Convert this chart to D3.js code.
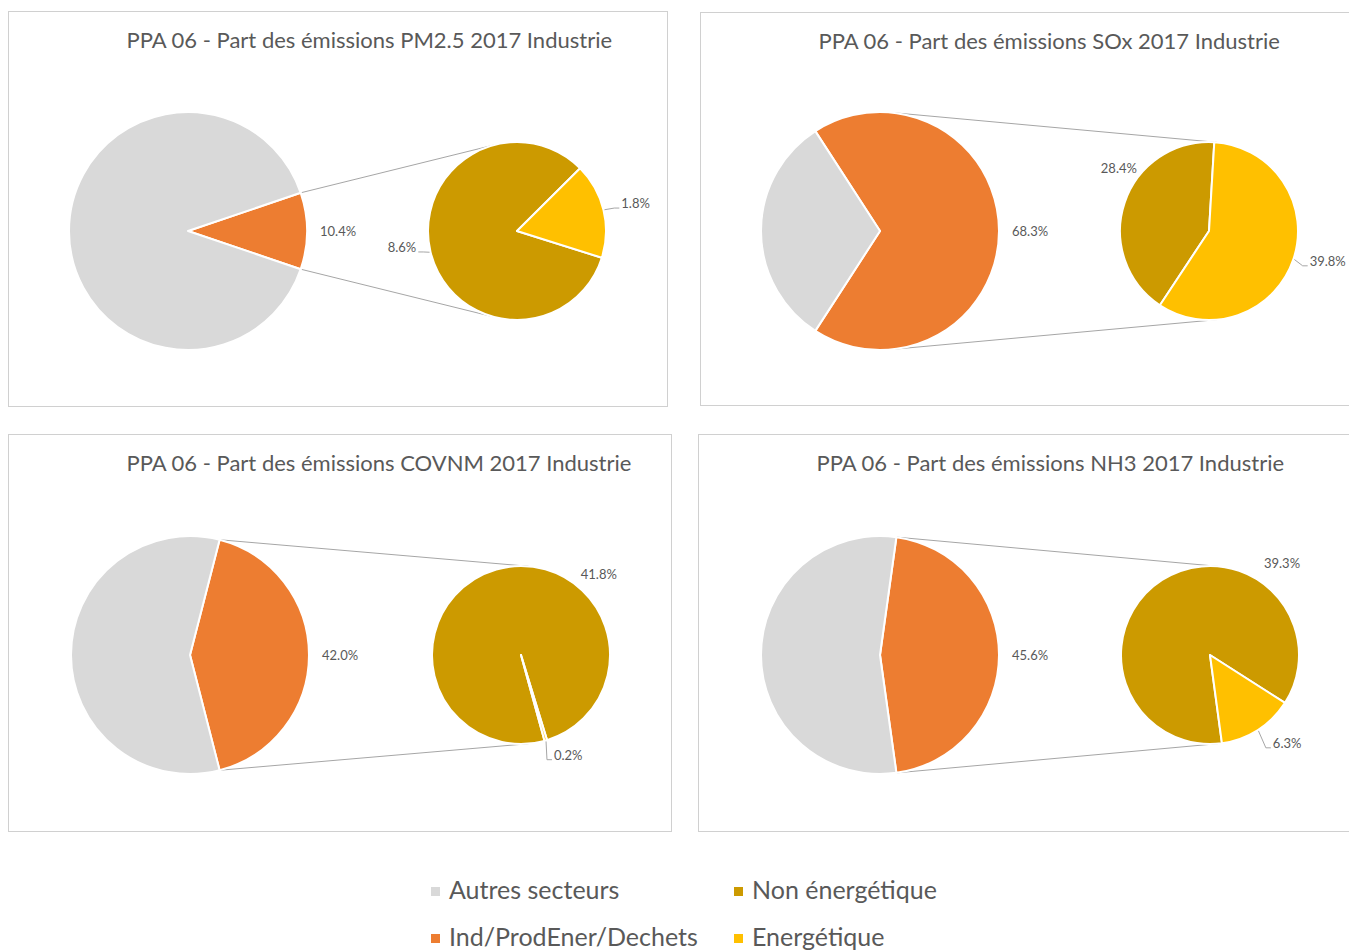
<!DOCTYPE html>
<html lang="fr">
<head>
  <meta charset="UTF-8">
  <title>PPA 06 - Part des émissions 2017 Industrie</title>
  <style>
    body { margin: 0; background: #fff; font-family: Lato, "Open Sans", sans-serif; }
    svg text { fill: #595959; }
  </style>
  <script src="https://cdn.jsdelivr.net/npm/d3@7"></script>
</head>
<body>
<script>
  // data (percent of total emissions)
  var pollutants      = ["PM2.5", "SOx", "COVNM", "NH3"];
  var indShare        = [10.4, 68.3, 42.0, 45.6];   // Ind/ProdEner/Dechets
  var autresShare     = [89.6, 31.7, 58.0, 54.4];   // Autres secteurs
  var nonEnergetique  = [8.6, 28.4, 41.8, 39.3];
  var energetique     = [1.8, 39.8, 0.2, 6.3];
  var categories      = ["Autres secteurs", "Ind/ProdEner/Dechets", "Non énergétique", "Energétique"];
  var colors          = ["#d9d9d9", "#ed7d31", "#cc9a00", "#ffc000"];

  // layout
  var W = 1349, H = 951;
  var r1 = 119, r2 = 89;
  var panelBox = [
    {x: 8.5,   y: 11.5,  w: 659, h: 395},
    {x: 700.5, y: 12.5,  w: 670, h: 393},
    {x: 8.5,   y: 434.5, w: 663, h: 397},
    {x: 698.5, y: 434.5, w: 670, h: 397}
  ];
  var mainOffset = [[180, 220], [180, 219], [182, 221], [182, 221]];
  var secGap     = [329, 329, 331, 330];
  var secStart   = [107.5, 213.5, 164.7, 172.3];   // degrees, where "Non énergétique" starts
  var oliveLabel = [
    {a: 261, d: 102, anchor: "end", leader: true},
    {a: 305, d: 110, anchor: "middle", leader: false},
    {a: 44,  d: 112, anchor: "middle", leader: false},
    {a: 38,  d: 117, anchor: "middle", leader: false}
  ];
  var yellowLabel = [
    {a: 75,    d: 108, anchor: "start", leader: true},
    {a: 106.5, d: 105, anchor: "start", leader: true},
    {a: 161.7, d: 105, anchor: "start", leader: true},
    {a: 144.4, d: 108, anchor: "start", leader: true}
  ];

  var fmt = function(v) { return d3.format(".1f")(v) + "%"; };
  var rad = function(deg) { return deg * Math.PI / 180; };
  var polar = function(cx, cy, r, a) { return [cx + r * Math.sin(a), cy - r * Math.cos(a)]; };

  var svg = d3.select("body").append("svg")
      .attr("width", W)
      .attr("height", H);

  svg.append("rect").attr("width", W).attr("height", H).attr("fill", "#fff");

  var arc1 = d3.arc().innerRadius(0).outerRadius(r1);
  var arc2 = d3.arc().innerRadius(0).outerRadius(r2);

  pollutants.forEach(function(p, i) {
    var box = panelBox[i];
    var cx1 = box.x - 0.5 + mainOffset[i][0],
        cy  = box.y - 0.5 + mainOffset[i][1],
        cx2 = cx1 + secGap[i];

    var g = svg.append("g");

    // frame
    g.append("rect")
        .attr("x", box.x).attr("y", box.y)
        .attr("width", box.w).attr("height", box.h)
        .attr("fill", "none")
        .attr("stroke", "#d0d0d0")
        .attr("stroke-width", 1);

    // title
    g.append("text")
        .attr("x", box.x + 118)
        .attr("y", box.y + 36)
        .style("font-size", "22px")
        .text("PPA 06 - Part des émissions " + p + " 2017 Industrie");

    // connector lines: common tangent or from slice edge to the secondary pie
    var a0 = Math.PI / 2 - indShare[i] / 100 * Math.PI;
    var thetaC = Math.asin((r1 - r2) / (cx2 - cx1));
    var S = a0 <= thetaC ? polar(cx1, cy, r1, thetaC) : polar(cx1, cy, r1, a0);
    var vx = cx2 - S[0], vy = cy - S[1];
    var dist = Math.sqrt(vx * vx + vy * vy);
    var alpha = Math.asin(r2 / dist), L = Math.sqrt(dist * dist - r2 * r2);
    var phi = Math.atan2(vy, vx) - alpha;
    var T = [S[0] + L * Math.cos(phi), S[1] + L * Math.sin(phi)];
    [[S, T], [[S[0], 2 * cy - S[1]], [T[0], 2 * cy - T[1]]]].forEach(function(seg) {
      g.append("line")
          .attr("x1", seg[0][0]).attr("y1", seg[0][1])
          .attr("x2", seg[1][0]).attr("y2", seg[1][1])
          .attr("stroke", "#a6a6a6")
          .attr("stroke-width", 1);
    });

    // main pie
    var s1 = a0;
    var pie1 = d3.pie().sort(null).startAngle(s1).endAngle(s1 + 2 * Math.PI);
    g.append("g")
        .attr("transform", "translate(" + cx1 + "," + cy + ")")
      .selectAll("path")
        .data(pie1([indShare[i], autresShare[i]]))
      .enter().append("path")
        .attr("d", arc1)
        .attr("fill", function(d, k) { return k === 0 ? colors[1] : colors[0]; })
        .attr("stroke", "#fff")
        .attr("stroke-width", 2)
        .attr("stroke-linejoin", "round");

    // secondary pie
    var s2 = rad(secStart[i]);
    var pie2 = d3.pie().sort(null).startAngle(s2).endAngle(s2 + 2 * Math.PI);
    var slices2 = pie2([nonEnergetique[i], energetique[i]]);
    g.append("g")
        .attr("transform", "translate(" + cx2 + "," + cy + ")")
      .selectAll("path")
        .data(slices2)
      .enter().append("path")
        .attr("d", arc2)
        .attr("fill", function(d, k) { return colors[2 + k]; })
        .attr("stroke", "#fff")
        .attr("stroke-width", 2)
        .attr("stroke-linejoin", "round");

    // main label
    var pm = polar(cx1, cy, r1 + 13, Math.PI / 2);
    g.append("text")
        .attr("x", pm[0]).attr("y", pm[1])
        .attr("dominant-baseline", "central")
        .style("font-size", "13px")
        .text(fmt(indShare[i]));

    // secondary labels
    [oliveLabel[i], yellowLabel[i]].forEach(function(lb, k) {
      var sl = slices2[k];
      var pos = polar(cx2, cy, lb.d, rad(lb.a));
      if (lb.leader) {
        var mid = (sl.startAngle + sl.endAngle) / 2;
        var e = polar(cx2, cy, r2 + 1, mid);
        var sign = lb.anchor === "end" ? 1 : -1;
        var end = [pos[0] + sign * 2, pos[1] + 5];
        var knee = [end[0] + sign * 5, end[1]];
        g.append("polyline")
            .attr("points", [e, knee, end].map(function(q) { return q.join(","); }).join(" "))
            .attr("fill", "none")
            .attr("stroke", "#a6a6a6")
            .attr("stroke-width", 1);
      }
      g.append("text")
          .attr("x", pos[0]).attr("y", pos[1])
          .attr("text-anchor", lb.anchor)
          .attr("dominant-baseline", "central")
          .style("font-size", "13px")
          .text(fmt(k === 0 ? nonEnergetique[i] : energetique[i]));
    });
  });

  // legend
  var legendOrder = [0, 2, 1, 3];
  var legend = svg.append("g").attr("transform", "translate(431,0)");
  legendOrder.forEach(function(c, k) {
    var col = k % 2, row = Math.floor(k / 2);
    var lx = col * 303, ly = 899 + row * 47;
    legend.append("rect")
        .attr("x", lx).attr("y", ly - 12)
        .attr("width", 9).attr("height", 9)
        .attr("fill", colors[c]);
    legend.append("text")
        .attr("x", lx + 18).attr("y", ly)
        .style("font-size", "25px")
        .text(categories[c]);
  });
</script>
</body>
</html>
